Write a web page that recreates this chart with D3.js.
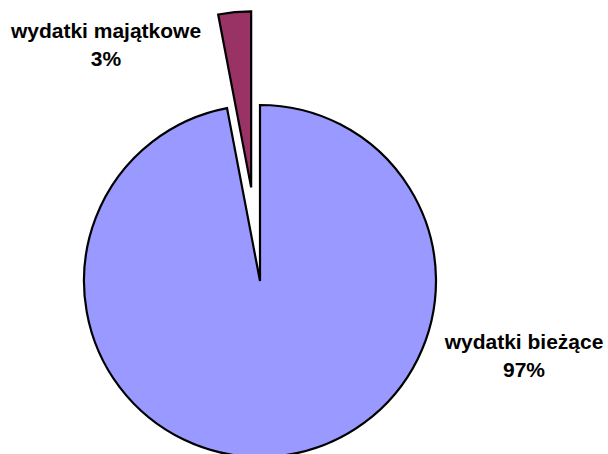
<!DOCTYPE html>
<html>
<head>
<meta charset="utf-8">
<script src="https://cdn.jsdelivr.net/npm/d3@7"></script>
<style>
  body { margin: 0; background: #fff; }
  svg { display: block; }
  .lbl { font-family: "Liberation Sans", Arial, sans-serif; font-weight: bold; font-size: 21px; fill: #000; }
</style>
</head>
<body>
<div id="chart"></div>
<script>
// data
const categories = ["wydatki bieżące", "wydatki majątkowe"];
const shares = [97, 3];
const colors = ["#9999FF", "#993366"];
const exploded = [0, 94];

const width = 608, height = 454;
const cx = 260, cy = 281, radius = 176;

const svg = d3.select("#chart").append("svg")
  .attr("width", width)
  .attr("height", height);

const g = svg.append("g")
  .attr("transform", "translate(" + cx + "," + cy + ")");

const pie = d3.pie().sort(null).value(d => d);
const arc = d3.arc().innerRadius(0).outerRadius(radius);
const arcs = pie(shares);

g.selectAll("path")
  .data(arcs)
  .enter()
  .append("path")
  .attr("d", arc)
  .attr("transform", (d, i) => {
    const mid = (d.startAngle + d.endAngle) / 2;
    const dx = Math.sin(mid) * exploded[i];
    const dy = -Math.cos(mid) * exploded[i];
    return "translate(" + dx + "," + dy + ")";
  })
  .style("fill", (d, i) => colors[i])
  .style("stroke", "#000")
  .style("stroke-width", 2.2)
  .style("stroke-linejoin", "miter");

// labels
const labelPos = [[264, 68], [-154, -243]];
arcs.forEach((d, i) => {
  const t = g.append("text")
    .attr("class", "lbl")
    .attr("text-anchor", "middle")
    .attr("x", labelPos[i][0])
    .attr("y", labelPos[i][1]);
  t.append("tspan").attr("x", labelPos[i][0]).text(categories[i]);
  t.append("tspan").attr("x", labelPos[i][0]).attr("dy", 28)
    .text(Math.round(shares[i]) + "%");
});
</script>
</body>
</html>
